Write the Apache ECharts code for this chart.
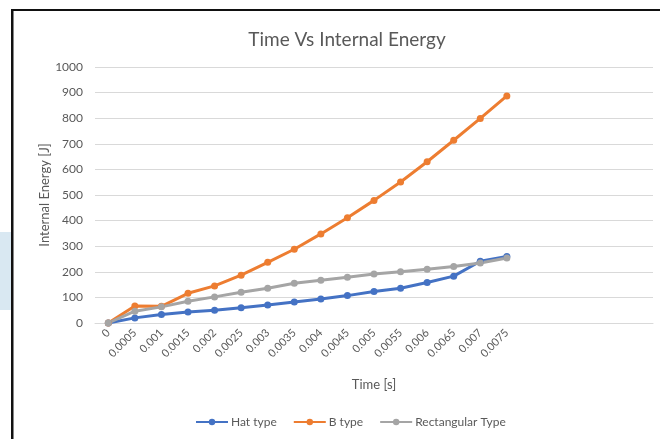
<!DOCTYPE html>
<html>
<head>
<meta charset="utf-8">
<script src="https://cdn.jsdelivr.net/npm/echarts@6/dist/echarts.min.js"></script>
<style>
html,body{margin:0;padding:0;background:#fff;}
#c{width:660px;height:439px;}
</style>
</head>
<body>
<div id="c"></div>
<script>
var categories = ['0','0.0005','0.001','0.0015','0.002','0.0025','0.003','0.0035','0.004','0.0045','0.005','0.0055','0.006','0.0065','0.007','0.0075','','','','',''];
var hatType = [0, 20, 33, 43, 50, 60, 70, 82, 94, 107, 123, 136, 158, 183, 241, 260];
var bType = [0, 66, 65, 116, 145, 187, 237, 288, 348, 411, 479, 551, 630, 714, 799, 887];
var rectType = [0, 46, 63, 85, 102, 120, 136, 155, 167, 179, 191, 200, 210, 221, 234, 254];
var yTicks = {min: 0, max: 1000, interval: 100};

var FONT = 'Lato, "Open Sans", sans-serif';
var chart = echarts.init(document.getElementById('c'), null, {renderer: 'canvas'});
function mk(name, data, color) {
  return {
    name: name, type: 'line', data: data,
    symbol: 'circle', symbolSize: 7,
    lineStyle: {width: 3, color: color},
    itemStyle: {color: color},
    animation: false
  };
}
chart.setOption({
  animation: false,
  backgroundColor: '#fff',
  title: {
    text: 'Time Vs Internal Energy', left: 342, top: 25, textAlign: 'center',
    textStyle: {fontFamily: FONT, fontSize: 19, fontWeight: 'normal', color: '#595959'}
  },
  grid: {left: 95, right: 7, top: 67, bottom: 116, containLabel: false},
  legend: {
    bottom: 6, left: 190, itemGap: 16, itemWidth: 32, itemHeight: 8,
    textStyle: {fontFamily: FONT, fontSize: 12, color: '#595959', padding: [0, 0, 0, -2]},
    data: ['Hat type', 'B type', 'Rectangular Type']
  },
  xAxis: {
    type: 'category', data: categories, boundaryGap: true,
    name: 'Time [s]', nameLocation: 'middle', nameGap: 55, nameMoveOverlap: false,
    nameTextStyle: {fontFamily: FONT, fontSize: 13, color: '#595959'},
    axisLine: {lineStyle: {color: '#d9d9d9'}},
    axisTick: {show: false},
    axisLabel: {rotate: 45, interval: 0, fontFamily: FONT, fontSize: 11, color: '#595959', margin: 8}
  },
  yAxis: {
    type: 'value', min: yTicks.min, max: yTicks.max, interval: yTicks.interval,
    name: 'Internal Energy [J]', nameLocation: 'middle', nameGap: 44, nameMoveOverlap: false,
    nameTextStyle: {fontFamily: FONT, fontSize: 13, color: '#595959'},
    axisLine: {show: false}, axisTick: {show: false},
    splitLine: {lineStyle: {color: '#d9d9d9', width: 1}},
    axisLabel: {fontFamily: FONT, fontSize: 12, color: '#595959', margin: 12, formatter: function (v) { return String(v); }}
  },
  graphic: [
    {type: 'rect', shape: {x: 0, y: 232, width: 11, height: 78}, style: {fill: '#d9e8f2'}, silent: true},
    {type: 'rect', shape: {x: 11, y: 9, width: 649, height: 2}, style: {fill: '#111'}, silent: true},
    {type: 'rect', shape: {x: 11, y: 9, width: 2.5, height: 430}, style: {fill: '#111'}, silent: true}
  ],
  series: [
    mk('Hat type', hatType, '#4472C4'),
    mk('B type', bType, '#ED7D31'),
    mk('Rectangular Type', rectType, '#A5A5A5')
  ]
});
</script>
</body>
</html>
